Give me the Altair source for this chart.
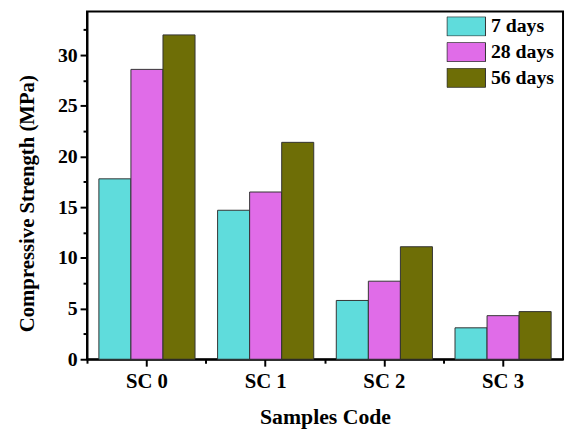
import altair as alt
import pandas as pd

samples = ["SC 0", "SC 1", "SC 2", "SC 3"]
ages = ["7 days", "28 days", "56 days"]
days7 = [17.8, 14.7, 5.8, 3.1]
days28 = [28.6, 16.5, 7.7, 4.3]
days56 = [32.0, 21.4, 11.1, 4.7]
colors = ["#5fdcdc", "#e06ce8", "#6e6e06"]
y_major = [0, 5, 10, 15, 20, 25, 30]
y_minor = [2.5, 7.5, 12.5, 17.5, 22.5, 27.5, 32.5]

rows = []
for series, vals in zip(ages, [days7, days28, days56]):
    for s, v in zip(samples, vals):
        rows.append({"sample": s, "age": series, "value": v})
df = pd.DataFrame(rows)

FONT = "Times New Roman, Liberation Serif, DejaVu Serif, serif"
yscale = alt.Scale(domain=[0, 34.3], nice=False, zero=True)
xscale = alt.Scale(paddingInner=0.19, paddingOuter=0.1)

bars = alt.Chart(df).mark_bar(stroke="#333333", strokeWidth=1).encode(
    x=alt.X("sample:N", sort=samples, scale=xscale,
            axis=alt.Axis(orient="bottom", title="Samples Code", labelAngle=0,
                          tickSize=7, tickWidth=2, tickColor="black",
                          domainWidth=2, domainColor="black",
                          labelFont=FONT, labelFontSize=21, labelFontWeight="bold",
                          labelColor="black", labelPadding=5,
                          titleFont=FONT, titleFontSize=22, titleFontWeight="bold",
                          titleColor="black", titlePadding=15)),
    xOffset=alt.XOffset("age:N", sort=ages),
    y=alt.Y("value:Q", scale=yscale,
            axis=alt.Axis(orient="left", title="Compressive Strength (MPa)",
                          values=y_major, tickSize=7, tickWidth=2, tickColor="black",
                          domainWidth=2, domainColor="black", grid=False,
                          labelFont=FONT, labelFontSize=20, labelFontWeight="bold",
                          labelColor="black", labelPadding=3,
                          titleFont=FONT, titleFontSize=21, titleFontWeight="bold",
                          titleColor="black", titlePadding=20, titleY=194)),
    color=alt.Color("age:N", sort=ages, scale=alt.Scale(domain=ages, range=colors),
                    legend=alt.Legend(title=None, orient="none", legendX=364, legendY=5,
                                      symbolType="M-1,-0.5H1V0.5H-1Z", symbolSize=1521,
                                      symbolStrokeColor="#333333", symbolStrokeWidth=1,
                                      symbolOpacity=1, clipHeight=20,
                                      labelFont=FONT, labelFontSize=20, labelFontWeight="bold",
                                      labelColor="black", rowPadding=6, labelOffset=5,
                                      padding=0)),
)

minor = alt.Chart(df).mark_bar(opacity=0).encode(
    x=alt.X("sample:N", sort=samples, scale=xscale,
            axis=alt.Axis(orient="bottom", title=None, labels=False, domain=False,
                          tickSize=4, tickWidth=2, tickColor="black", bandPosition=-0.117)),
    y=alt.Y("value:Q", scale=yscale,
            axis=alt.Axis(orient="left", title=None, labels=False, domain=False,
                          values=y_minor, tickSize=4, tickWidth=2, tickColor="black",
                          grid=False)),
)

chart = alt.layer(bars, minor).resolve_axis(x="independent", y="independent").properties(
    width=482, height=352,
    autosize=alt.AutoSizeParams(type="none"),
    padding={"left": 80, "top": 1, "right": 2, "bottom": 69},
    background="white",
).configure_view(stroke="black", strokeWidth=2)

chart.save("out.html", embed_options={"renderer": "svg", "actions": False})
